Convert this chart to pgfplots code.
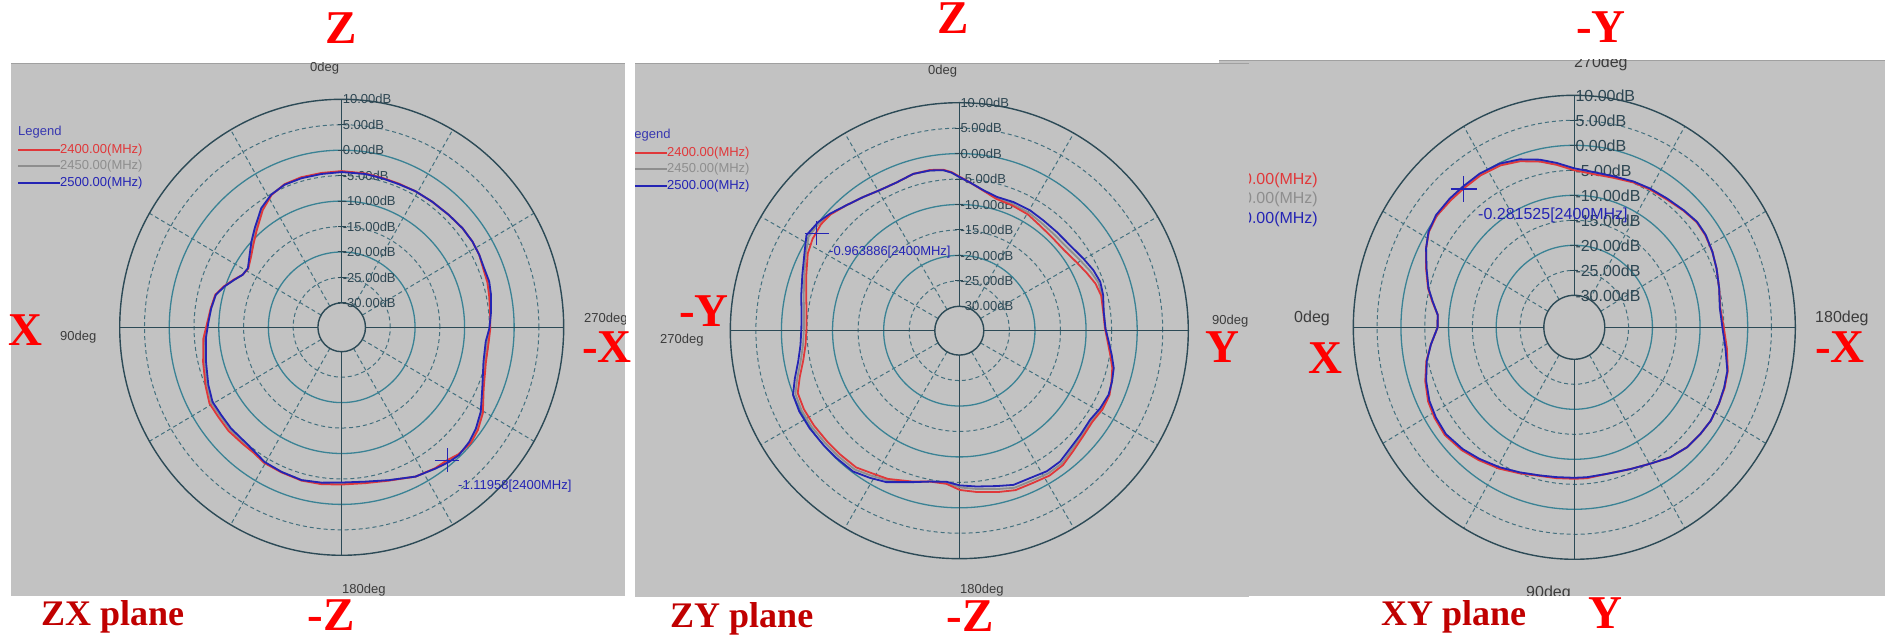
\documentclass[border=0pt]{standalone}
\usepackage{pgfplots}
\pgfplotsset{compat=1.18}
\usepackage{pgfplotstable}
\usepackage{fontspec}
\setmainfont{Liberation Serif}
\newfontfamily\arial{Liberation Sans}

\definecolor{bgc}{HTML}{C2C2C2}
\definecolor{gsolid}{HTML}{3A8294}
\definecolor{gdashc}{HTML}{44707E}
\definecolor{gdark}{HTML}{2C4A56}
\definecolor{lblc}{HTML}{2E4652}
\definecolor{degc}{HTML}{3C3C3C}
\definecolor{cred}{HTML}{E0383A}
\definecolor{cgray}{HTML}{8E8E8E}
\definecolor{cblue}{HTML}{2424B4}
\definecolor{legc}{HTML}{3838B0}
\definecolor{bigred}{HTML}{FF0000}
\definecolor{darkred}{HTML}{C00000}
\definecolor{topl}{HTML}{A0A0A0}

\tikzset{
 gdash/.style={gdashc, line width=1pt, dash pattern=on 4pt off 3pt},
 gsol/.style={gsolid, line width=1.3pt},
 gdk/.style={gdark, line width=1.4pt},
 curve/.style={line width=1.8pt, line join=round},
 big/.style={text=bigred, font=\fontsize{47}{47}\selectfont\bfseries, inner sep=0pt},
 plane/.style={text=darkred, font=\fontsize{36}{36}\selectfont\bfseries, inner sep=0pt, anchor=base west},
}

% #1 hole radius, #2 outer radius, #3 font size
\newcommand{\polargrid}[3]{%
  \pgfplotsinvokeforeach{30,60,120,150,210,240,300,330}{
    \draw[gdash] (axis cs:{#1*cos(##1)},{#1*sin(##1)}) -- (axis cs:{#2*cos(##1)},{#2*sin(##1)});
  }
  \draw[gdash] (axis cs:0,0) circle[radius={#1+5}];
  \draw[gdash] (axis cs:0,0) circle[radius={#1+15}];
  \draw[gdash] (axis cs:0,0) circle[radius={#1+25}];
  \draw[gdash] (axis cs:0,0) circle[radius={#1+35}];
  \draw[gsol] (axis cs:0,0) circle[radius={#1+10}];
  \draw[gsol] (axis cs:0,0) circle[radius={#1+20}];
  \draw[gsol] (axis cs:0,0) circle[radius={#1+30}];
  \draw[gdk] (axis cs:0,0) circle[radius={#2}];
  \draw[gdk] (axis cs:0,0) circle[radius={#1}];
  \draw[gdk] (axis cs:#1,0) -- (axis cs:#2,0);
  \draw[gdk] (axis cs:-#1,0) -- (axis cs:-#2,0);
  \draw[gdk] (axis cs:0,#1) -- (axis cs:0,#2);
  \draw[gdk] (axis cs:0,-#1) -- (axis cs:0,-#2);
  \pgfplotsinvokeforeach{0,5,10,15,20,25,30,35,40}{
    \draw[gdark, line width=1pt] ([xshift=-4pt]axis cs:0,{#1+##1}) -- ([xshift=4pt]axis cs:0,{#1+##1});
  }
  \tikzset{rl/.style={anchor=west, inner sep=0pt, xshift=1pt, text=lblc, font=\arial\fontsize{#3}{#3}\selectfont}}
  \node[rl] at (axis cs:0,{#1+40}) {10.00dB};
  \node[rl] at (axis cs:0,{#1+35}) {5.00dB};
  \node[rl] at (axis cs:0,{#1+30}) {0.00dB};
  \node[rl] at (axis cs:0,{#1+25}) {-5.00dB};
  \node[rl] at (axis cs:0,{#1+20}) {-10.00dB};
  \node[rl] at (axis cs:0,{#1+15}) {-15.00dB};
  \node[rl] at (axis cs:0,{#1+10}) {-20.00dB};
  \node[rl] at (axis cs:0,{#1+5}) {-25.00dB};
  \node[rl] at (axis cs:0,{#1}) {-30.00dB};
}

% ZX plane: a = instrument angle (deg), b = 2500 MHz, r = 2400 MHz, g = 2450 MHz (dB)
\pgfplotstableread{
a b r g
0 -4.3 -4.1 -4.2
7.7 -4.4 -4.2 -4.3
15.5 -4.4 -4.2 -4.3
22.3 -4.5 -4.4 -4.5
28.6 -5.1 -5.2 -5.1
34.7 -6.3 -6.8 -6.5
42.1 -8.6 -9.2 -8.9
47.3 -10.0 -10.6 -10.3
52.6 -11.4 -11.8 -11.6
58.5 -12.6 -12.7 -12.6
62.7 -12.3 -12.3 -12.3
66.7 -11.2 -11.1 -11.2
71.3 -9.8 -9.7 -9.8
75.9 -8.6 -8.5 -8.6
81.9 -8.2 -8.1 -8.2
87.6 -7.9 -7.7 -7.8
94.5 -7.3 -6.8 -7.0
103.8 -6.6 -6.0 -6.3
112.8 -5.6 -5.0 -5.3
119.3 -4.9 -4.2 -4.6
125.3 -5.0 -4.3 -4.7
131.7 -4.9 -4.2 -4.6
138.9 -5.0 -4.4 -4.7
144.3 -4.7 -4.4 -4.6
149.5 -4.1 -3.9 -4.0
156.8 -3.9 -3.8 -3.9
164.9 -3.7 -3.6 -3.7
172.4 -4.0 -3.7 -3.9
180 -4.3 -3.9 -4.1
188.9 -4.1 -3.8 -4.0
197.5 -3.3 -3.2 -3.3
206.9 -1.9 -1.9 -1.9
214.3 -1.2 -1.3 -1.2
219.3 -0.6 -1.1 -0.8
223.3 -0.3 -0.5 -0.4
228.8 -0.6 -0.2 -0.4
233.7 -1.2 -0.7 -1.0
239.4 -2.2 -1.7 -2.0
247.1 -4.0 -3.7 -3.9
256.7 -5.4 -4.9 -5.2
264.5 -5.6 -5.0 -5.3
269.6 -5.0 -4.8 -4.9
275.8 -4.5 -4.7 -4.6
281.9 -4.0 -4.4 -4.2
286.8 -3.7 -4.1 -3.9
292.0 -3.8 -4.0 -3.9
297.2 -3.6 -3.6 -3.6
302.6 -3.5 -3.5 -3.5
308.6 -3.6 -3.6 -3.6
315.6 -3.9 -3.9 -3.9
323.5 -4.1 -4.1 -4.1
330.9 -4.2 -4.2 -4.2
337.8 -4.4 -4.3 -4.4
344.5 -4.4 -4.3 -4.4
351.0 -4.3 -4.2 -4.3
360 -4.3 -4.1 -4.2
}\tabA

% ZY plane
\pgfplotstableread{
a b r g
0 -4.6 -4.5 -4.6
4.1 -5.6 -5.6 -5.6
9.7 -6.8 -6.9 -6.8
15.6 -7.5 -7.9 -7.7
22.7 -7.4 -8.1 -7.8
30.4 -7.4 -8.3 -7.9
37.2 -7.6 -8.8 -8.2
44.5 -7.6 -9.0 -8.3
52.3 -7.4 -8.9 -8.1
59.7 -6.7 -8.2 -7.4
65.6 -6.0 -7.4 -6.6
70.8 -5.6 -6.6 -6.0
76.0 -5.8 -6.2 -6.0
82.5 -6.3 -6.4 -6.3
89.1 -6.2 -6.3 -6.2
94.2 -5.5 -5.7 -5.6
99.1 -4.6 -4.9 -4.7
103.7 -3.7 -4.0 -3.8
108.5 -3.3 -3.4 -3.3
113.3 -3.0 -2.8 -2.9
118.9 -3.3 -2.8 -3.0
124.4 -3.8 -3.2 -3.5
130.8 -3.5 -2.9 -3.2
136.8 -3.1 -2.3 -2.7
142.5 -2.4 -1.5 -1.9
148.2 -2.3 -1.3 -1.8
154.4 -2.7 -1.6 -2.1
160.7 -2.7 -1.6 -2.1
166.5 -3.4 -2.2 -2.8
173.7 -4.0 -2.9 -3.5
179.8 -4.4 -3.5 -4.0
184.8 -5.0 -4.6 -4.8
191.0 -4.6 -4.6 -4.6
196.9 -3.7 -3.8 -3.7
205.6 -1.8 -2.5 -2.2
211.2 -1.0 -2.0 -1.5
216.9 -0.2 -1.2 -0.7
223.9 -0.1 -1.1 -0.6
229.9 0.0 -1.0 -0.5
236.8 0.2 -0.8 -0.3
243.1 0.3 -0.7 -0.2
248.8 0.1 -0.9 -0.4
253.8 -1.3 -2.3 -1.8
259.1 -2.7 -3.7 -3.2
264.8 -3.6 -4.6 -4.1
270.9 -3.9 -4.9 -4.4
276.9 -3.7 -4.7 -4.2
282.7 -3.1 -4.1 -3.6
289.6 -2.2 -3.0 -2.6
297.1 -0.8 -1.5 -1.1
302.1 0.5 -0.9 0.0
307.7 0.1 -0.6 -0.2
312.2 -0.6 -0.8 -0.7
318.1 -1.7 -1.7 -1.7
324.4 -2.5 -2.5 -2.5
330.6 -3.1 -3.1 -3.1
337.1 -3.2 -3.2 -3.2
343.7 -2.7 -2.7 -2.7
349.7 -2.8 -2.7 -2.8
354.3 -3.1 -3.0 -3.1
357.2 -3.7 -3.6 -3.7
360 -4.6 -4.5 -4.6
}\tabB

% XY plane
\pgfplotstableread{
a b r g
0 -7.7 -7.7 -7.7
6.5 -6.1 -6.1 -6.1
12.3 -4.7 -4.6 -4.7
19.0 -3.5 -3.3 -3.4
25.8 -2.6 -2.3 -2.5
31.8 -2.2 -1.9 -2.1
38.4 -2.0 -1.7 -1.9
46.1 -2.6 -2.3 -2.5
52.9 -3.4 -3.1 -3.3
60.7 -4.3 -4.0 -4.2
68.4 -5.2 -5.0 -5.1
76.3 -5.9 -5.8 -5.9
82.9 -6.2 -6.0 -6.1
90 -6.3 -6.1 -6.2
95.0 -6.3 -6.1 -6.2
103.1 -6.3 -6.3 -6.3
112.5 -5.7 -5.7 -5.7
120.3 -4.8 -4.8 -4.8
127.8 -3.5 -3.5 -3.5
134.6 -2.7 -2.7 -2.7
141.2 -2.4 -2.4 -2.4
146.8 -2.2 -2.2 -2.2
153.2 -2.4 -2.4 -2.4
159.0 -2.7 -2.6 -2.7
164.8 -3.1 -3.0 -3.1
172.6 -4.4 -4.1 -4.3
179.8 -5.3 -5.0 -5.2
187.2 -5.6 -5.5 -5.6
194.4 -5.0 -5.0 -5.0
201.5 -4.3 -4.3 -4.3
207.6 -3.7 -3.7 -3.7
213.8 -3.2 -3.3 -3.2
219.3 -3.1 -3.2 -3.1
225.5 -3.6 -3.7 -3.6
232.9 -4.1 -4.3 -4.2
240.1 -4.4 -4.6 -4.5
246.9 -4.7 -4.9 -4.8
254.8 -5.1 -5.4 -5.2
262.6 -5.1 -5.5 -5.3
270 -4.6 -5.0 -4.8
276.5 -3.3 -3.7 -3.5
282.2 -2.1 -2.5 -2.3
288.9 -0.9 -1.3 -1.1
295.6 -0.1 -0.5 -0.3
302.9 0.2 -0.2 0.0
310.0 0.2 -0.2 0.0
315.5 0.3 -0.1 0.1
322.3 0.3 0.1 0.2
328.0 -0.3 -0.4 -0.3
333.1 -1.5 -1.5 -1.5
339.2 -3.2 -3.1 -3.2
345.7 -4.8 -4.7 -4.8
350.1 -6.2 -6.1 -6.2
355.0 -7.6 -7.6 -7.6
360 -7.7 -7.7 -7.7
}\tabC

\begin{document}
\begin{tikzpicture}[x=1pt,y=1pt]
\path[use as bounding box, fill=white] (0,0) rectangle (1885,639);

% ================= Panel 3 : XY plane =================
\begin{scope}
\clip (1219,43) rectangle (1885,579);
\fill[bgc] (1219,43) rectangle (1885,579);
\draw[topl, line width=1pt] (1219,578.5) -- (1885,578.5);
\begin{axis}[at={(1574.3pt,311.7pt)}, anchor=origin, scale only axis,
  width=442pt, height=464pt, xmin=-46.4, xmax=46.4, ymin=-46.4, ymax=46.4,
  hide axis, clip=false]
\polargrid{6.4}{46.4}{16}
\addplot[cgray, curve] table[x expr={(\thisrow{g}+36.4)*cos(180+\thisrow{a})}, y expr={(\thisrow{g}+36.4)*sin(180+\thisrow{a})}]{\tabC};
\addplot[cred, curve] table[x expr={(\thisrow{r}+36.4)*cos(180+\thisrow{a})}, y expr={(\thisrow{r}+36.4)*sin(180+\thisrow{a})}]{\tabC};
\addplot[cblue, curve] table[x expr={(\thisrow{b}+36.4)*cos(180+\thisrow{a})}, y expr={(\thisrow{b}+36.4)*sin(180+\thisrow{a})}]{\tabC};
\addplot[cblue, only marks, mark=+, mark size=13pt, mark options={line width=1.2pt}] table[row sep=\\, x expr={(\thisrow{d}+36.4)*cos(180+\thisrow{a})}, y expr={(\thisrow{d}+36.4)*sin(180+\thisrow{a})}]{a d\\ 310.0 -0.28\\};
\end{axis}
\begin{scope}[every node/.style={inner sep=0pt, font=\arial\fontsize{16}{16}\selectfont}]
\node[anchor=east, text=cred] at (1318,459) {2400.00(MHz)};
\node[anchor=east, text=cgray] at (1318,440) {2450.00(MHz)};
\node[anchor=east, text=cblue] at (1318,420) {2500.00(MHz)};
\node[anchor=west, text=degc] at (1294,321) {0deg};
\node[anchor=west, text=degc] at (1815,321) {180deg};
\node[anchor=west, text=degc] at (1574,576) {270deg};
\node[anchor=west, text=degc] at (1526,46) {90deg};
\node[anchor=west, text=cblue] at (1478,424) {-0.281525[2400MHz]};
\end{scope}
\end{scope}

% ================= Panel 1 : ZX plane =================
\begin{scope}
\clip (11,43) rectangle (625,576);
\fill[bgc] (11,43) rectangle (625,576);
\draw[topl, line width=1pt] (11,575.5) -- (625,575.5);
\begin{axis}[at={(341.7pt,311.7pt)}, anchor=origin, scale only axis,
  width=444pt, height=456pt, xmin=-44.8, xmax=44.8, ymin=-44.8, ymax=44.8,
  hide axis, clip=false]
\polargrid{4.8}{44.8}{13}
\addplot[cgray, curve] table[x expr={(\thisrow{g}+34.8)*cos(90+\thisrow{a})}, y expr={(\thisrow{g}+34.8)*sin(90+\thisrow{a})}]{\tabA};
\addplot[cred, curve] table[x expr={(\thisrow{r}+34.8)*cos(90+\thisrow{a})}, y expr={(\thisrow{r}+34.8)*sin(90+\thisrow{a})}]{\tabA};
\addplot[cblue, curve] table[x expr={(\thisrow{b}+34.8)*cos(90+\thisrow{a})}, y expr={(\thisrow{b}+34.8)*sin(90+\thisrow{a})}]{\tabA};
\addplot[cblue, only marks, mark=+, mark size=12pt, mark options={line width=1.2pt}] table[row sep=\\, x expr={(\thisrow{d}+34.8)*cos(90+\thisrow{a})}, y expr={(\thisrow{d}+34.8)*sin(90+\thisrow{a})}]{a d\\ 219.2 -1.12\\};
\end{axis}
\begin{scope}[every node/.style={inner sep=0pt, font=\arial\fontsize{13}{13}\selectfont}]
\node[anchor=west, text=legc] at (18,507) {Legend};
\draw[cred, line width=1.2pt] (18,489) -- (60,489);
\draw[cgray, line width=1.2pt] (18,473) -- (60,473);
\draw[cblue, line width=1.2pt] (18,456) -- (60,456);
\node[anchor=west, text=cred] at (60,489) {2400.00(MHz)};
\node[anchor=west, text=cgray] at (60,473) {2450.00(MHz)};
\node[anchor=west, text=cblue] at (60,456) {2500.00(MHz)};
\node[anchor=west, text=degc] at (310,571) {0deg};
\node[anchor=west, text=degc] at (60,302) {90deg};
\node[anchor=west, text=degc] at (584,320) {270deg};
\node[anchor=west, text=degc] at (342,49) {180deg};
\node[anchor=west, text=cblue] at (458,153) {-1.11958[2400MHz]};
\end{scope}
\end{scope}

% ================= Panel 2 : ZY plane =================
\begin{scope}
\clip (635,42) rectangle (1249,576);
\fill[bgc] (635,42) rectangle (1249,576);
\draw[topl, line width=1pt] (635,575.5) -- (1249,575.5);
\begin{axis}[at={(959.3pt,308.3pt)}, anchor=origin, scale only axis,
  width=458pt, height=456pt, xmin=-44.8, xmax=44.8, ymin=-44.8, ymax=44.8,
  hide axis, clip=false]
\polargrid{4.8}{44.8}{13}
\addplot[cgray, curve] table[x expr={(\thisrow{g}+34.8)*cos(90-\thisrow{a})}, y expr={(\thisrow{g}+34.8)*sin(90-\thisrow{a})}]{\tabB};
\addplot[cred, curve] table[x expr={(\thisrow{r}+34.8)*cos(90-\thisrow{a})}, y expr={(\thisrow{r}+34.8)*sin(90-\thisrow{a})}]{\tabB};
\addplot[cblue, curve] table[x expr={(\thisrow{b}+34.8)*cos(90-\thisrow{a})}, y expr={(\thisrow{b}+34.8)*sin(90-\thisrow{a})}]{\tabB};
\addplot[cblue, only marks, mark=+, mark size=12pt, mark options={line width=1.2pt}] table[row sep=\\, x expr={(\thisrow{d}+34.8)*cos(90-\thisrow{a})}, y expr={(\thisrow{d}+34.8)*sin(90-\thisrow{a})}]{a d\\ 304.4 -0.96\\};
\end{axis}
\begin{scope}[every node/.style={inner sep=0pt, font=\arial\fontsize{13}{13}\selectfont}]
\node[anchor=west, text=legc] at (627,504) {Legend};
\draw[cred, line width=1.2pt] (630,486) -- (667,486);
\draw[cgray, line width=1.2pt] (630,470) -- (667,470);
\draw[cblue, line width=1.2pt] (630,453) -- (667,453);
\node[anchor=west, text=cred] at (667,486) {2400.00(MHz)};
\node[anchor=west, text=cgray] at (667,470) {2450.00(MHz)};
\node[anchor=west, text=cblue] at (667,453) {2500.00(MHz)};
\node[anchor=west, text=degc] at (928,568) {0deg};
\node[anchor=west, text=degc] at (660,299) {270deg};
\node[anchor=west, text=degc] at (1212,318) {90deg};
\node[anchor=west, text=degc] at (960,49) {180deg};
\node[anchor=west, text=cblue] at (829,387) {-0.963886[2400MHz]};
\end{scope}
\end{scope}

% ================= Big red labels =================
\node[big] at (341,611) {Z};
\node[big] at (25,309) {X};
\node[big] at (607,292) {-X};
\node[big] at (331,24) {-Z};
\node[plane] at (41,13.5) {ZX plane};

\node[big] at (953,621) {Z};
\node[big] at (704,328) {-Y};
\node[big] at (1222,292) {Y};
\node[big] at (970,23) {-Z};
\node[plane] at (670,11.5) {ZY plane};

\node[big] at (1601,612) {-Y};
\node[big] at (1325,281) {X};
\node[big] at (1840,292) {-X};
\node[big] at (1605,26) {Y};
\node[plane] at (1381,13.5) {XY plane};
\end{tikzpicture}
\end{document}
